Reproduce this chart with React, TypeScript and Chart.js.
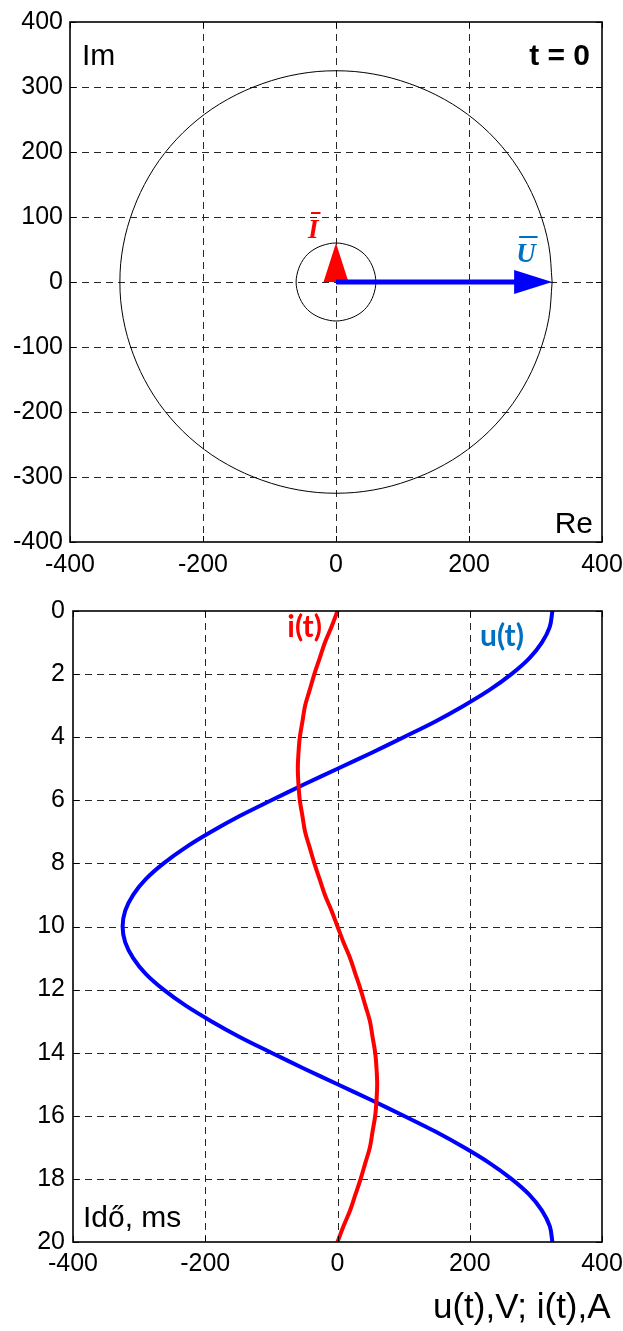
import React, { useEffect, useRef } from "react";
import { Chart, registerables } from "chart.js";

Chart.register(...registerables);

// Locus of the voltage phasor tip over one period (Re, Im), V
const uLocusRe = [325, 320, 305, 281, 249, 209, 163, 111, 56, 0, -56, -111, -163, -209, -249, -281, -305, -320, -325, -320, -305, -281, -249, -209, -163, -111, -56, 0, 56, 111, 163, 209, 249, 281, 305, 320, 325];
const uLocusIm = [0, 56, 111, 163, 209, 249, 281, 305, 320, 325, 320, 305, 281, 249, 209, 163, 111, 56, 0, -56, -111, -163, -209, -249, -281, -305, -320, -325, -320, -305, -281, -249, -209, -163, -111, -56, 0];

// Locus of the current phasor tip over one period (Re, Im), A
const iLocusRe = [60, 59, 56, 52, 46, 39, 30, 21, 10, 0, -10, -21, -30, -39, -46, -52, -56, -59, -60, -59, -56, -52, -46, -39, -30, -21, -10, 0, 10, 21, 30, 39, 46, 52, 56, 59, 60];
const iLocusIm = [0, 10, 21, 30, 39, 46, 52, 56, 59, 60, 59, 56, 52, 46, 39, 30, 21, 10, 0, -10, -21, -30, -39, -46, -52, -56, -59, -60, -59, -56, -52, -46, -39, -30, -21, -10, 0];

// Phasors at t = 0, as [Re, Im]
const phasorU = [325, 0];
const phasorI = [0, 60];

// Time samples (ms) and instantaneous values
const timeMs = [0, 0.5, 1, 1.5, 2, 2.5, 3, 3.5, 4, 4.5, 5, 5.5, 6, 6.5, 7, 7.5, 8, 8.5, 9, 9.5, 10, 10.5, 11, 11.5, 12, 12.5, 13, 13.5, 14, 14.5, 15, 15.5, 16, 16.5, 17, 17.5, 18, 18.5, 19, 19.5, 20];
const uValues = [325, 321, 309, 290, 263, 230, 191, 148, 100, 51, 0, -51, -100, -148, -191, -230, -263, -290, -309, -321, -325, -321, -309, -290, -263, -230, -191, -148, -100, -51, 0, 51, 100, 148, 191, 230, 263, 290, 309, 321, 325];
const iValues = [0, -9, -19, -27, -35, -42, -49, -53, -57, -59, -60, -59, -57, -53, -49, -42, -35, -27, -19, -9, 0, 9, 19, 27, 35, 42, 49, 53, 57, 59, 60, 59, 57, 53, 49, 42, 35, 27, 19, 9, 0];

// Tick labels
const reTicks = [-400, -200, 0, 200, 400];
const imTicks = [-400, -300, -200, -100, 0, 100, 200, 300, 400];
const valueTicks = [-400, -200, 0, 200, 400];
const timeTicks = [0, 2, 4, 6, 8, 10, 12, 14, 16, 18, 20];

const SANS = '"Liberation Sans", Arial, sans-serif';
const TICK_FONT = { family: SANS, size: 25 };

// Dashed grid, solid box and inward tick marks
const framePlugin = {
  id: "frame",
  beforeDatasetsDraw(chart: any) {
    const { ctx, chartArea: a, scales } = chart;
    const x = scales.x;
    const y = scales.y;
    ctx.save();
    ctx.strokeStyle = "#262626";
    ctx.lineWidth = 1;
    ctx.setLineDash([7, 5]);
    ctx.beginPath();
    for (const t of x.ticks) {
      const px = Math.round(x.getPixelForValue(t.value)) + 0.5;
      if (px <= a.left + 2 || px >= a.right - 2) continue;
      ctx.moveTo(px, a.top);
      ctx.lineTo(px, a.bottom);
    }
    for (const t of y.ticks) {
      const py = Math.round(y.getPixelForValue(t.value)) + 0.5;
      if (py <= a.top + 2 || py >= a.bottom - 2) continue;
      ctx.moveTo(a.left, py);
      ctx.lineTo(a.right, py);
    }
    ctx.stroke();
    ctx.restore();
  },
  afterDatasetsDraw(chart: any) {
    const { ctx, chartArea: a, scales } = chart;
    const x = scales.x;
    const y = scales.y;
    const tl = 6;
    ctx.save();
    ctx.setLineDash([]);
    ctx.strokeStyle = "#000";
    ctx.lineWidth = 1;
    ctx.beginPath();
    for (const t of x.ticks) {
      const px = Math.round(x.getPixelForValue(t.value)) + 0.5;
      ctx.moveTo(px, a.bottom);
      ctx.lineTo(px, a.bottom - tl);
      ctx.moveTo(px, a.top);
      ctx.lineTo(px, a.top + tl);
    }
    for (const t of y.ticks) {
      const py = Math.round(y.getPixelForValue(t.value)) + 0.5;
      ctx.moveTo(a.left, py);
      ctx.lineTo(a.left + tl, py);
      ctx.moveTo(a.right, py);
      ctx.lineTo(a.right - tl, py);
    }
    ctx.stroke();
    ctx.lineWidth = 1.6;
    ctx.strokeRect(a.left, a.top, a.right - a.left, a.bottom - a.top);
    ctx.restore();
  },
};

function drawArrow(ctx: CanvasRenderingContext2D, x0: number, y0: number, x1: number, y1: number, color: string, shaftWidth: number, headLen: number, headHalf: number) {
  const dx = x1 - x0;
  const dy = y1 - y0;
  const len = Math.hypot(dx, dy);
  if (len < 1) return;
  const ux = dx / len;
  const uy = dy / len;
  const hl = Math.min(headLen, len);
  const bx = x1 - ux * hl;
  const by = y1 - uy * hl;
  ctx.save();
  ctx.strokeStyle = color;
  ctx.fillStyle = color;
  if (len > hl) {
    ctx.lineWidth = shaftWidth;
    ctx.beginPath();
    ctx.moveTo(x0, y0);
    ctx.lineTo(bx + ux * 2, by + uy * 2);
    ctx.stroke();
  }
  ctx.beginPath();
  ctx.moveTo(x1, y1);
  ctx.lineTo(bx - uy * headHalf, by + ux * headHalf);
  ctx.lineTo(bx + uy * headHalf, by - ux * headHalf);
  ctx.closePath();
  ctx.fill();
  ctx.restore();
}

function overlinedItalic(ctx: CanvasRenderingContext2D, text: string, x: number, baseline: number, color: string) {
  ctx.save();
  ctx.font = 'italic bold 27px "Liberation Serif", "Times New Roman", serif';
  ctx.fillStyle = color;
  ctx.textAlign = "left";
  ctx.textBaseline = "alphabetic";
  ctx.fillText(text, x, baseline);
  const w = ctx.measureText(text).width;
  ctx.fillRect(x + 3, baseline - 26, w - 1, 2);
  ctx.restore();
}

// Phasors and annotation texts of the phasor diagram
const phasorPlugin = {
  id: "phasors",
  afterDatasetsDraw(chart: any) {
    const { ctx, chartArea: a, scales } = chart;
    const x = scales.x;
    const y = scales.y;
    const ox = x.getPixelForValue(0);
    const oy = y.getPixelForValue(0);
    const ix = x.getPixelForValue(phasorI[0]);
    const iy = y.getPixelForValue(phasorI[1]);
    const ux = x.getPixelForValue(phasorU[0]);
    const uy = y.getPixelForValue(phasorU[1]);
    drawArrow(ctx, ox, oy, ix, iy, "#ff0000", 4, 40, 12.5);
    drawArrow(ctx, ox, oy, ux, uy, "#0000ff", 5, 38, 12);

    overlinedItalic(ctx, "I", ix - 28, iy - 5, "#ff0000");
    overlinedItalic(ctx, "U", ux - 36, uy - 20, "#0070c0");

    ctx.save();
    ctx.fillStyle = "#000";
    ctx.textBaseline = "alphabetic";
    ctx.font = `30px ${SANS}`;
    ctx.textAlign = "left";
    ctx.fillText("Im", a.left + 12, a.top + 43);
    ctx.textAlign = "right";
    ctx.fillText("Re", a.right - 9, a.bottom - 9);
    ctx.font = `bold 30px ${SANS}`;
    ctx.fillText("t = 0", a.right - 12, a.top + 43);
    ctx.restore();
  },
};

// Curve labels and axis captions of the time plot
const timeTextPlugin = {
  id: "timeTexts",
  afterDraw(chart: any) {
    const { ctx, chartArea: a } = chart;
    ctx.save();
    ctx.textBaseline = "alphabetic";
    ctx.font = 'bold 30px Lato, "Open Sans", sans-serif';
    ctx.fillStyle = "#ff0000";
    ctx.textAlign = "right";
    ctx.fillText("i(t)", a.left + 249, a.top + 26);
    ctx.fillStyle = "#0070c0";
    ctx.textAlign = "left";
    ctx.fillText("u(t)", a.left + 407, a.top + 35);
    ctx.fillStyle = "#000";
    ctx.font = `30px ${SANS}`;
    ctx.fillText("Idő, ms", a.left + 10, a.bottom - 15);
    ctx.font = `35px ${SANS}`;
    ctx.fillText("u(t),V; i(t),A", a.left + 360, a.bottom + 76);
    ctx.restore();
  },
};

function fixedTicks(values: number[]) {
  return (scale: any) => {
    scale.ticks = values.map((v) => ({ value: v }));
  };
}

function axis(min: number, max: number, values: number[], size: number, isY: boolean, padding: number, reverse = false) {
  return {
    type: "linear",
    min,
    max,
    reverse,
    afterBuildTicks: fixedTicks(values),
    afterFit: (scale: any) => {
      if (isY) scale.width = size;
      else scale.height = size;
      scale.paddingLeft = 0;
      scale.paddingRight = 0;
      scale.paddingTop = 0;
      scale.paddingBottom = 0;
    },
    grid: { display: false, drawTicks: false },
    border: { display: false },
    ticks: {
      font: TICK_FONT,
      color: "#000",
      padding,
      autoSkip: false,
      maxRotation: 0,
      callback: (v: any) => String(v),
    },
  };
}

export default function App() {
  const topRef = useRef<HTMLCanvasElement>(null);
  const bottomRef = useRef<HTMLCanvasElement>(null);

  useEffect(() => {
    const common = {
      responsive: false,
      maintainAspectRatio: false,
      animation: false,
      events: [],
      plugins: { legend: { display: false }, tooltip: { enabled: false } },
    };

    const locusStyle = {
      showLine: true,
      borderColor: "#000",
      borderWidth: 1,
      pointRadius: 0,
      tension: 0.35,
    };

    const phasorChart = new Chart(topRef.current as HTMLCanvasElement, {
      type: "scatter",
      data: {
        datasets: [
          { data: uLocusRe.map((re, k) => ({ x: re, y: uLocusIm[k] })), ...locusStyle },
          { data: iLocusRe.map((re, k) => ({ x: re, y: iLocusIm[k] })), ...locusStyle },
        ],
      },
      options: {
        ...common,
        layout: { padding: { left: 0, right: 21, top: 22, bottom: 0 } },
        scales: {
          x: axis(-400, 400, reTicks, 38, false, 8),
          y: axis(-400, 400, imTicks, 70, true, 7),
        },
      } as any,
      plugins: [framePlugin, phasorPlugin],
    });

    const waveStyle = {
      showLine: true,
      borderWidth: 4,
      pointRadius: 0,
      tension: 0.35,
      borderJoinStyle: "round",
      borderCapStyle: "round",
    };

    const timeChart = new Chart(bottomRef.current as HTMLCanvasElement, {
      type: "scatter",
      data: {
        datasets: [
          { label: "i(t)", data: timeMs.map((t, k) => ({ x: iValues[k], y: t })), borderColor: "#ff0000", ...waveStyle },
          { label: "u(t)", data: timeMs.map((t, k) => ({ x: uValues[k], y: t })), borderColor: "#0000ff", ...waveStyle },
        ],
      },
      options: {
        ...common,
        layout: { padding: { left: 0, right: 21, top: 31, bottom: 0 } },
        scales: {
          x: axis(-400, 400, valueTicks, 89, false, 7),
          y: axis(0, 20, timeTicks, 73, true, 8, true),
        },
      } as any,
      plugins: [framePlugin, timeTextPlugin],
    });

    return () => {
      phasorChart.destroy();
      timeChart.destroy();
    };
  }, []);

  return (
    <div style={{ position: "absolute", left: 0, top: 0, width: 623, height: 1331, background: "#fff" }}>
      <canvas ref={topRef} width={623} height={580} style={{ position: "absolute", left: 0, top: 0, display: "block" }} />
      <canvas ref={bottomRef} width={623} height={751} style={{ position: "absolute", left: 0, top: 580, display: "block" }} />
    </div>
  );
}
